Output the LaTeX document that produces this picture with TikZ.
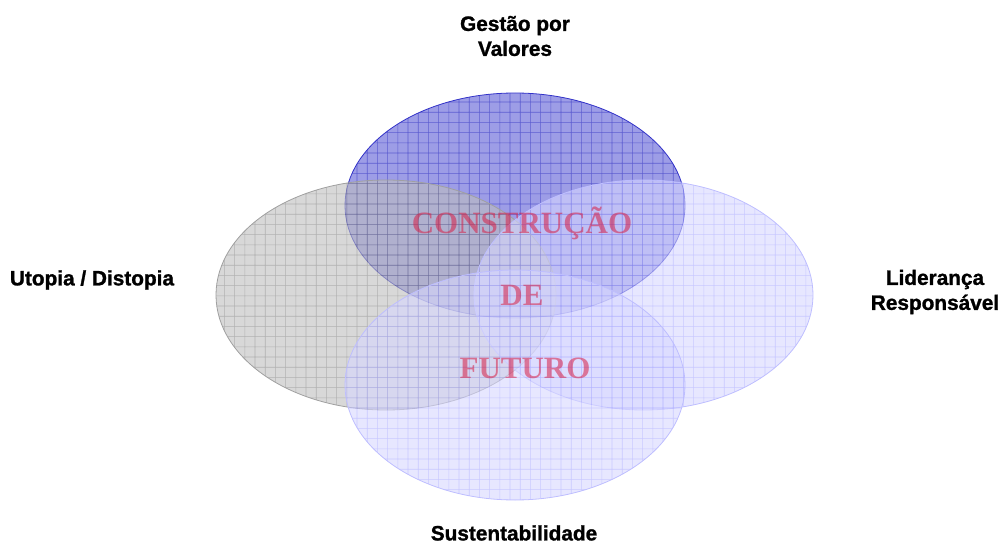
\documentclass[tikz,border=0pt]{standalone}
\usepackage{fontspec}
\setmainfont{Liberation Sans}
\newfontfamily\serifbold{Liberation Serif}
\newfontfamily\labelfont[FakeBold=1.2]{Liberation Sans Bold}
\definecolor{topfill}{RGB}{140,140,226}
\definecolor{topgrid}{RGB}{65,65,200}
\definecolor{topline}{RGB}{50,50,200}
\definecolor{greyfill}{RGB}{190,190,190}
\definecolor{greygrid}{RGB}{125,125,125}
\definecolor{greyline}{RGB}{160,160,160}
\definecolor{lavfill}{RGB}{215,215,255}
\definecolor{lavgrid}{RGB}{165,165,255}
\definecolor{lavline}{RGB}{190,190,255}
\definecolor{wordred}{RGB}{215,30,70}
\tikzset{
  lbl/.style={font=\labelfont\fontsize{20.8}{25}\selectfont, align=center, inner sep=0pt},
  word/.style={font=\serifbold\fontsize{31}{31}\selectfont\bfseries, text=wordred, opacity=0.55, inner sep=0pt},
}
\newcommand{\gridellipse}[7]{%
  % #1 cx, #2 cy, #3 rx, #4 ry, #5 fill, #6 grid, #7 opacity
  \begin{scope}[transparency group, opacity=#7]
    \fill[#5] (#1,#2) ellipse [x radius=#3, y radius=#4];
    \begin{scope}
      \clip (#1,#2) ellipse [x radius=#3, y radius=#4];
      \draw[#6, line width=0.6pt, step=10.2pt] (150,60) grid (850,520);
    \end{scope}
  \end{scope}}
\begin{document}
\begin{tikzpicture}[x=1pt,y=-1pt]
\useasboundingbox (0,0) rectangle (999,543);
% top
\gridellipse{515}{205.5}{170}{112.5}{topfill}{topgrid}{0.85}
\draw[topline, line width=0.8pt] (515,205.5) ellipse [x radius=170, y radius=112.5];
% left
\gridellipse{386}{295}{170}{115}{greyfill}{greygrid}{0.6}
\draw[greyline, line width=0.8pt] (386,295) ellipse [x radius=170, y radius=115];
% right
\gridellipse{643.5}{295}{169.5}{115}{lavfill}{lavgrid}{0.6}
\draw[lavline, line width=0.8pt] (643.5,295) ellipse [x radius=169.5, y radius=115];
% bottom
\gridellipse{515}{385}{170}{115}{lavfill}{lavgrid}{0.6}
\draw[lavline, line width=0.8pt] (515,385) ellipse [x radius=170, y radius=115];
% central words
\node[word] (w1) at (522,223) {CONSTRUÇÃO};
\node[word] (w2) at (522,295) {DE};
\node[word] (w3) at (525,368) {FUTURO};
% labels
\node[lbl] (gv) at (515,36) {Gestão por\\Valores};
\node[lbl] (ud) at (92,280) {Utopia / Distopia};
\node[lbl] (lr) at (935,292) {Liderança\\Responsável};
\node[lbl] (su) at (514,533) {Sustentabilidade};
\end{tikzpicture}
\end{document}
